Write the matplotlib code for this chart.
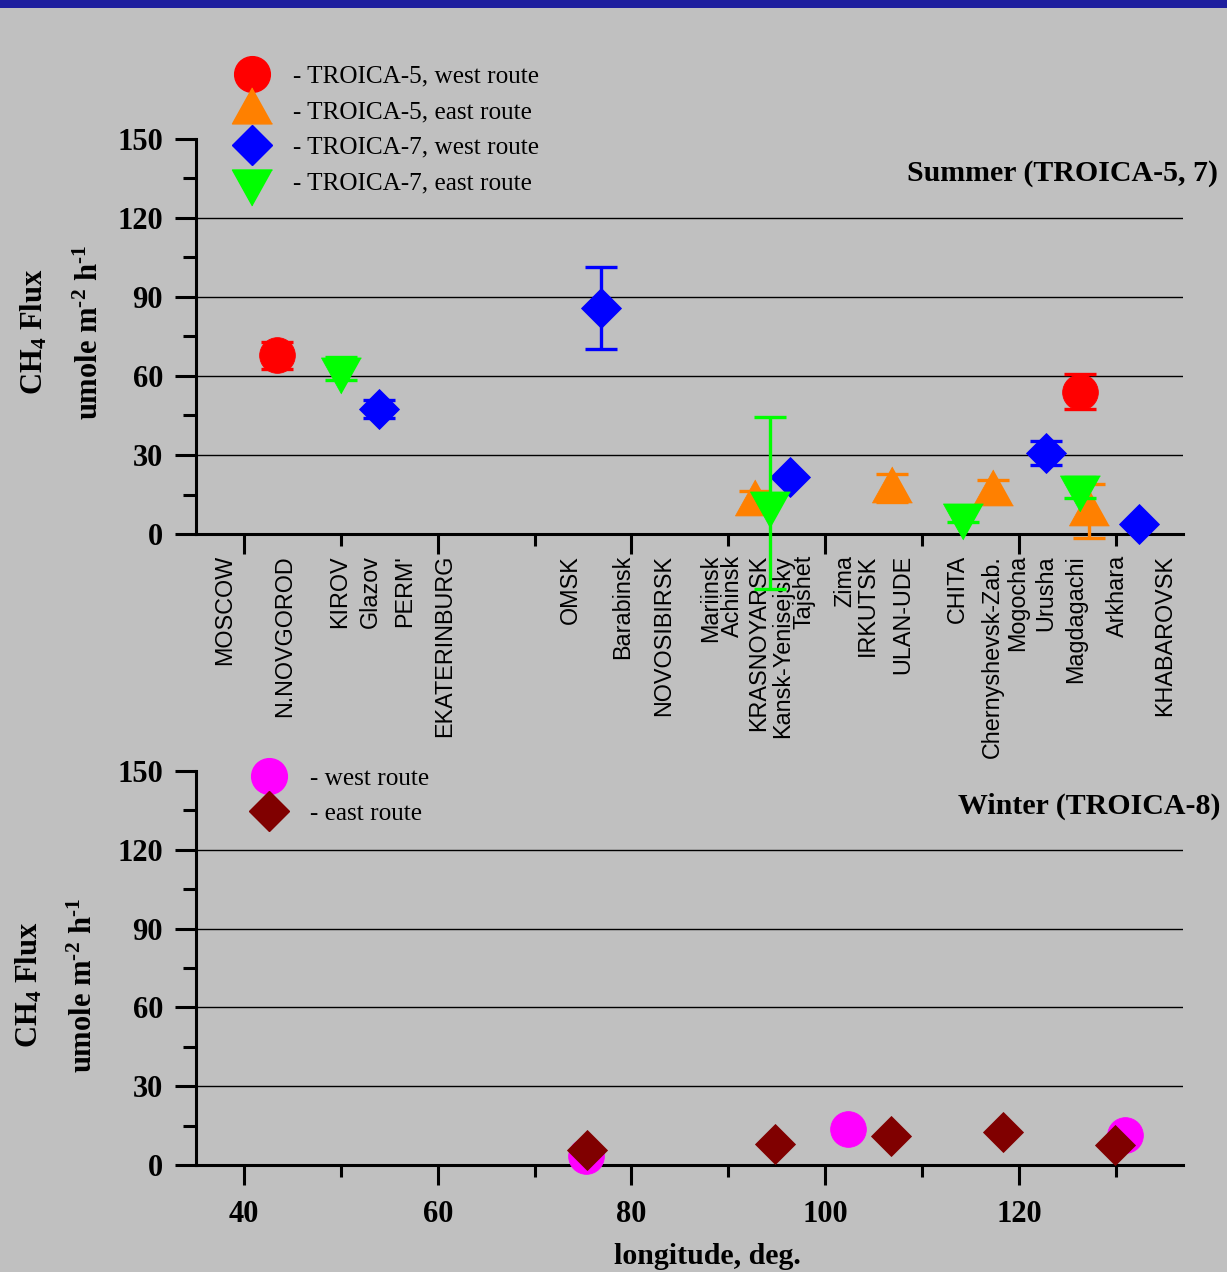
import numpy as np
import matplotlib
matplotlib.use('Agg')
import matplotlib.pyplot as plt
from matplotlib.lines import Line2D
from matplotlib.patches import Rectangle
from matplotlib.ticker import MultipleLocator

# Summer campaigns: longitude (deg E), CH4 flux and its error (umole m-2 h-1)
t5_west_lon = [43.4, 126.3]
t5_west_flux = [67.9, 54.0]
t5_west_err = [5.1, 6.6]

t5_east_lon = [92.8, 106.9, 117.35, 127.2]
t5_east_flux = [12.5, 17.5, 16.5, 8.8]
t5_east_err = [4.0, 5.2, 4.1, 10.2]

t7_west_lon = [53.9, 76.85, 96.35, 122.75, 132.4]
t7_west_flux = [47.4, 85.8, 21.8, 30.8, 3.8]
t7_west_err = [3.5, 15.7, 0.0, 4.7, 0.0]

t7_east_lon = [50.0, 94.3, 114.25, 126.3]
t7_east_flux = [62.8, 11.8, 7.2, 17.7]
t7_east_err = [4.3, 32.7, 2.5, 4.1]

# Winter campaign (TROICA-8)
t8_west_lon = [75.35, 102.3, 130.95]
t8_west_flux = [3.3, 13.7, 11.4]
t8_east_lon = [75.4, 94.8, 106.8, 118.3, 129.9]
t8_east_flux = [5.6, 8.0, 10.9, 12.4, 7.6]

# stations along the railway
stations = ['MOSCOW', 'N.NOVGOROD', 'KIROV', 'Glazov', "PERM'", 'EKATERINBURG',
            'OMSK', 'Barabinsk', 'NOVOSIBIRSK', 'Mariinsk', 'Achinsk', 'KRASNOYARSK',
            'Kansk-Yenisejsky', 'Tajshet', 'Zima', 'IRKUTSK', 'ULAN-UDE', 'CHITA',
            'Chernyshevsk-Zab.', 'Mogocha', 'Urusha', 'Magdagachi', 'Arkhara', 'KHABAROVSK']
station_lon = [37.7, 43.9, 49.6, 52.8, 56.3, 60.5,
               73.45, 78.8, 83.1, 87.9, 90.2, 92.9,
               95.3, 97.6, 101.8, 104.1, 107.7, 113.4,
               117.0, 119.6, 122.5, 125.6, 129.9, 134.75]

plt.rcParams['font.family'] = 'Liberation Serif'
plt.rcParams['font.weight'] = 'bold'
plt.rcParams['mathtext.fontset'] = 'custom'
plt.rcParams['mathtext.rm'] = 'Liberation Serif:bold'
plt.rcParams['mathtext.bf'] = 'Liberation Serif:bold'
plt.rcParams['mathtext.it'] = 'Liberation Serif:bold:italic'

DPI = 100
W, H = 1227, 1272
BG = '#c0c0c0'


def pt(pixels):
    return pixels * 72.0 / DPI


# triangles anchored near their centroid, sizes in pixels
tri_up = np.array([(0, 21.6), (-20, -14.4), (20, -14.4)])
tri_down = np.array([(0, -24.5), (-20, 11.5), (20, 11.5)])


def verts_size(v):
    return pt(2 * np.abs(v).max())


circle = dict(marker='o', ms=pt(35.7))
diamond = dict(marker='D', ms=pt(40 / np.sqrt(2)))
up = dict(marker=[tuple(p) for p in tri_up], ms=verts_size(tri_up))
down = dict(marker=[tuple(p) for p in tri_down], ms=verts_size(tri_down))

fig = plt.figure(figsize=(W / DPI, H / DPI), dpi=DPI, facecolor=BG)
fig.patches.append(Rectangle((0, 1 - 8 / H), 1, 8 / H, transform=fig.transFigure,
                             facecolor='#1e1e9e', edgecolor='none'))

ax1 = fig.add_axes([196 / W, 1 - 534 / H, 987 / W, 395 / H])
ax2 = fig.add_axes([196 / W, 1 - 1165 / H, 987 / W, 394 / H])


def style_axes(ax):
    ax.set_facecolor('none')
    ax.set_xlim(35.05, 136.93)
    ax.set_ylim(0, 150)
    for s in ('top', 'right'):
        ax.spines[s].set_visible(False)
    for s in ('left', 'bottom'):
        ax.spines[s].set_linewidth(2.2)
    ax.xaxis.set_major_locator(MultipleLocator(20))
    ax.xaxis.set_minor_locator(MultipleLocator(10))
    ax.yaxis.set_major_locator(MultipleLocator(30))
    ax.yaxis.set_minor_locator(MultipleLocator(15))
    ax.tick_params(axis='y', which='major', length=pt(21), width=2.2, pad=pt(12))
    ax.tick_params(axis='y', which='minor', length=pt(13), width=2.2)
    ax.tick_params(axis='x', which='major', length=pt(20), width=2.2, pad=pt(15))
    ax.tick_params(axis='x', which='minor', length=pt(12), width=2.2)
    ax.tick_params(labelsize=22)
    for v in (30, 60, 90, 120):
        ax.axhline(v, color='black', lw=1.0, zorder=1)


def draw_series(ax, lon, flux, err, color, mk, z):
    if err is not None:
        eb = ax.errorbar(lon, flux, yerr=err, fmt='none', ecolor=color, elinewidth=2.4,
                         capsize=11.5, capthick=2.4, zorder=z)
        for art in list(eb.lines[1]) + list(eb.lines[2]):
            art.set_clip_on(False)
    ax.plot(lon, flux, ls='none', color=color, mec=color, mew=0.6, zorder=z + 0.5,
            clip_on=False, **mk)


style_axes(ax1)
style_axes(ax2)
ax1.tick_params(labelbottom=False)

draw_series(ax1, t5_west_lon, t5_west_flux, t5_west_err, '#ff0000', circle, 3)
draw_series(ax1, t5_east_lon, t5_east_flux, t5_east_err, '#ff8000', up, 4)
draw_series(ax1, t7_west_lon, t7_west_flux, t7_west_err, '#0000ff', diamond, 5)
draw_series(ax1, t7_east_lon, t7_east_flux, t7_east_err, '#00ff00', down, 6)

draw_series(ax2, t8_west_lon, t8_west_flux, None, '#ff00ff', circle, 3)
draw_series(ax2, t8_east_lon, t8_east_flux, None, '#800000', diamond, 4)

# station names under the summer panel
for name, lon in zip(stations, station_lon):
    ax1.text(lon, -0.053, name, transform=ax1.get_xaxis_transform(), rotation=90,
             rotation_mode='anchor', ha='right', va='center_baseline',
             family='Liberation Sans', fontweight='normal', fontsize=16.8, clip_on=False)

# legends
legend_kw = dict(loc='upper left', frameon=False, numpoints=1, handlelength=1.6,
                 handletextpad=0.8, labelspacing=0.51, borderpad=0, borderaxespad=0,
                 prop={'family': 'Liberation Serif', 'weight': 'normal', 'size': 18.2})

summer_handles = [
    Line2D([], [], ls='none', color='#ff0000', mec='#ff0000', **circle),
    Line2D([], [], ls='none', color='#ff8000', mec='#ff8000', **up),
    Line2D([], [], ls='none', color='#0000ff', mec='#0000ff', **diamond),
    Line2D([], [], ls='none', color='#00ff00', mec='#00ff00', **down),
]
summer_labels = ['- TROICA-5, west route', '- TROICA-5, east route',
                 '- TROICA-7, west route', '- TROICA-7, east route']
fig.legend(summer_handles, summer_labels, bbox_to_anchor=(232 / W, 1 - 65 / H), **legend_kw)

winter_handles = [
    Line2D([], [], ls='none', color='#ff00ff', mec='#ff00ff', **circle),
    Line2D([], [], ls='none', color='#800000', mec='#800000', **diamond),
]
fig.legend(winter_handles, ['- west route', '- east route'],
           bbox_to_anchor=(249 / W, 1 - 767 / H), **legend_kw)

# panel titles
fig.text(1218 / W, 1 - 181 / H, 'Summer (TROICA-5, 7)', ha='right', va='baseline', fontsize=21.5)
fig.text(1220 / W, 1 - 814 / H, 'Winter (TROICA-8)', ha='right', va='baseline', fontsize=21.5)

# y axis labels
for yc, x1, x2 in ((332, 42.7, 98), (985, 37.5, 92)):
    fig.text(x1 / W, 1 - yc / H, r'CH$_4$ Flux', rotation=90, rotation_mode='anchor',
             ha='center', va='baseline', fontsize=22)
    fig.text(x2 / W, 1 - yc / H, r'umole m$^{\text{-2}}$ h$^{\text{-1}}$', rotation=90,
             rotation_mode='anchor', ha='center', va='baseline', fontsize=22)

fig.text(707 / W, 1 - 1264 / H, 'longitude, deg.', ha='center', va='baseline', fontsize=21.5)

fig.savefig('out.png', dpi=DPI, facecolor=BG)
